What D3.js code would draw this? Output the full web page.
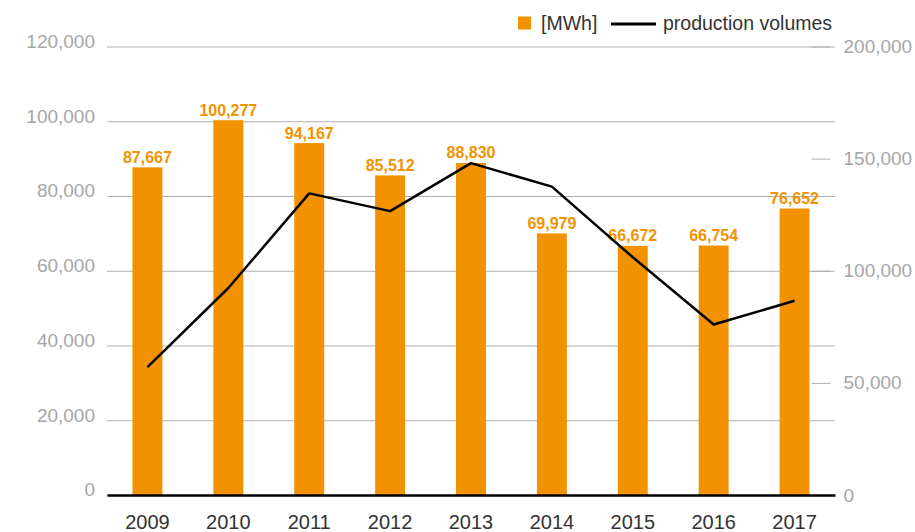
<!DOCTYPE html>
<style>
body { margin: 0; background: #fff; }
text { font-family: "Liberation Sans", Arial, sans-serif; }
</style>
<svg width="915" height="532"></svg>
<script src="https://d3js.org/d3.v7.min.js"></script>
<script>

var years = ["2009", "2010", "2011", "2012", "2013", "2014", "2015", "2016", "2017"];
var energy = [87667, 100277, 94167, 85512, 88830, 69979, 66672, 66754, 76652];
var production = [57000, 92300, 134500, 126600, 148000, 137500, 106000, 76000, 86600];
var leftTicks = [0, 20000, 40000, 60000, 80000, 100000, 120000];
var rightTicks = [0, 50000, 100000, 150000, 200000];

var svg = d3.select("svg"),
    margin = {top: 46.5, right: 80, bottom: 37, left: 107},
    width = +svg.attr("width") - margin.left - margin.right,
    height = +svg.attr("height") - margin.top - margin.bottom;

var orange = "#f39200",
    grey = "#a6a6a6";

var g = svg.append("g")
    .attr("transform", "translate(" + margin.left + "," + margin.top + ")");

var x = d3.scaleBand().domain(years).range([0, width]).paddingInner(0.63).paddingOuter(0.315);
var y0 = d3.scaleLinear().domain([0, 120000]).range([height, 0]);
var y1 = d3.scaleLinear().domain([0, 200000]).range([height, 0]);

var fmt = d3.format(",");

// left axis + gridlines
var yAxisLeft = g.append("g")
    .call(d3.axisLeft(y0).tickValues(leftTicks).tickSize(-width).tickPadding(12).tickFormat(fmt));
yAxisLeft.select(".domain").remove();
yAxisLeft.selectAll("line").attr("stroke", "#b0b0b0");
yAxisLeft.selectAll("text")
    .attr("fill", grey)
    .attr("dy", "0.05em")
    .style("font-size", "19px");

// right axis
var yAxisRight = g.append("g")
    .attr("transform", "translate(" + (width - 23.5) + ",0)")
    .call(d3.axisRight(y1).tickValues(rightTicks).tickSize(19).tickPadding(13).tickFormat(fmt));
yAxisRight.select(".domain").remove();
yAxisRight.selectAll("line").attr("stroke", "#b0b0b0");
yAxisRight.selectAll("text")
    .attr("fill", grey)
    .style("font-size", "19px");

// bars
g.selectAll(".bar")
    .data(energy)
  .enter().append("rect")
    .attr("class", "bar")
    .attr("x", function(d, i) { return x(years[i]); })
    .attr("y", function(d) { return y0(d); })
    .attr("width", x.bandwidth())
    .attr("height", function(d) { return height - y0(d); })
    .attr("fill", orange);

g.selectAll(".bar-label")
    .data(energy)
  .enter().append("text")
    .attr("class", "bar-label")
    .attr("x", function(d, i) { return x(years[i]) + x.bandwidth() / 2; })
    .attr("y", function(d) { return y0(d) - 4.5; })
    .attr("text-anchor", "middle")
    .attr("fill", orange)
    .style("font-size", "16px")
    .style("font-weight", "bold")
    .text(function(d) { return fmt(d); });

// x axis baseline + year labels
var xAxis = g.append("g")
    .attr("transform", "translate(0," + height + ")")
    .call(d3.axisBottom(x).tickSize(0).tickPadding(20));
xAxis.select(".domain").attr("stroke", "#000").attr("stroke-width", 2.5);
xAxis.selectAll("text")
    .attr("fill", "#333")
    .style("font-size", "20px");

// production line
var line = d3.line()
    .x(function(d, i) { return x(years[i]) + x.bandwidth() / 2; })
    .y(function(d) { return y1(d); });

g.append("path")
    .datum(production)
    .attr("fill", "none")
    .attr("stroke", "#000")
    .attr("stroke-width", 2.5)
    .attr("stroke-linejoin", "round")
    .attr("d", line);

// legend
var legend = svg.append("g");
legend.append("rect")
    .attr("x", 518).attr("y", 16.5)
    .attr("width", 13).attr("height", 13)
    .attr("fill", orange);
legend.append("text")
    .attr("x", 541).attr("y", 30)
    .attr("fill", "#333")
    .style("font-size", "19.5px")
    .text("[MWh]");
legend.append("line")
    .attr("x1", 611).attr("x2", 656)
    .attr("y1", 24).attr("y2", 24)
    .attr("stroke", "#000")
    .attr("stroke-width", 3);
legend.append("text")
    .attr("x", 663).attr("y", 30)
    .attr("fill", "#333")
    .style("font-size", "19.5px")
    .text("production volumes");

</script>
